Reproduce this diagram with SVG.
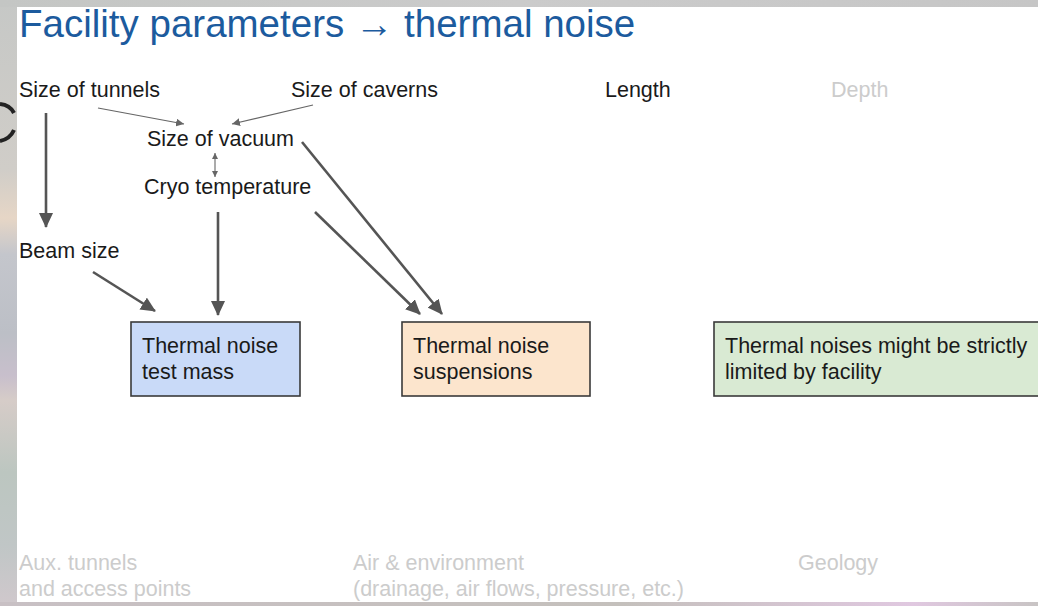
<svg xmlns="http://www.w3.org/2000/svg" width="1038" height="606" viewBox="0 0 1038 606">
  <style>
    text { font-family: "Liberation Sans", Arial, sans-serif; }
    .title { font-size: 38.5px; fill: #1c5b9e; }
    .lbl { font-size: 21.5px; fill: #1a1a1a; }
    .dim { font-size: 21.5px; fill: #cccccc; }
    .box { stroke: #3a3a3a; stroke-width: 1.6; }
    .thick { stroke: #555555; stroke-width: 2.6; fill: none; marker-end: url(#head); }
    .thin { stroke: #666666; stroke-width: 1.2; fill: none; marker-end: url(#headSmall); }
  </style>
  <defs>
    <marker id="head" markerUnits="userSpaceOnUse" markerWidth="16" markerHeight="14" refX="14" refY="7" orient="auto">
      <path d="M0,0 L15,7 L0,14 Z" fill="#555555"/>
    </marker>
    <marker id="headSmall" markerUnits="userSpaceOnUse" markerWidth="9" markerHeight="8" refX="8" refY="4" orient="auto">
      <path d="M0,0 L8,4 L0,8 Z" fill="#666666"/>
    </marker>
    <marker id="headTiny" markerUnits="userSpaceOnUse" markerWidth="7" markerHeight="6" refX="6" refY="3" orient="auto-start-reverse">
      <path d="M0,0 L6,3 L0,6 Z" fill="#666666"/>
    </marker>
    <linearGradient id="sideStrip" x1="0" y1="0" x2="0" y2="1">
      <stop offset="0" stop-color="#c6c8c6"/>
      <stop offset="0.28" stop-color="#d0cdc8"/>
      <stop offset="0.36" stop-color="#e6d6c6"/>
      <stop offset="0.42" stop-color="#c4c6cc"/>
      <stop offset="0.55" stop-color="#bcbfc6"/>
      <stop offset="0.62" stop-color="#c8bfcc"/>
      <stop offset="0.66" stop-color="#d6ccc8"/>
      <stop offset="0.78" stop-color="#bcc6c0"/>
      <stop offset="0.9" stop-color="#c0c6c6"/>
      <stop offset="1" stop-color="#d0c8cc"/>
    </linearGradient>
    <linearGradient id="topStrip" x1="0" y1="0" x2="1" y2="0">
      <stop offset="0" stop-color="#c4c6c4"/>
      <stop offset="0.5" stop-color="#cbcbcb"/>
      <stop offset="1" stop-color="#c6c6c6"/>
    </linearGradient>
    <linearGradient id="bottomStrip" x1="0" y1="0" x2="1" y2="0">
      <stop offset="0" stop-color="#c8c0c4"/>
      <stop offset="0.6" stop-color="#c4c0bc"/>
      <stop offset="0.88" stop-color="#e0c8e0"/>
      <stop offset="1" stop-color="#c8c4c4"/>
    </linearGradient>
  </defs>

  <!-- backdrop around the slide -->
  <rect x="0" y="0" width="1038" height="606" fill="url(#sideStrip)"/>
  <rect x="0" y="0" width="1038" height="7" fill="url(#topStrip)"/>
  <rect x="0" y="602" width="1038" height="4" fill="url(#bottomStrip)"/>
  <!-- dark curved mark on the backdrop, left edge -->
  <path d="M0,104 Q10,105 14,113" fill="none" stroke="#222222" stroke-width="4"/>
  <path d="M14,130 Q10,139 0,141" fill="none" stroke="#222222" stroke-width="4"/>

  <!-- slide -->
  <rect x="17" y="7" width="1021" height="595" fill="#ffffff"/>

  <text class="title" x="19" y="37">Facility parameters → thermal noise</text>

  <g id="size-of-tunnels"><text class="lbl" x="19" y="97">Size of tunnels</text></g>
  <g id="size-of-caverns"><text class="lbl" x="291" y="97">Size of caverns</text></g>
  <g id="length"><text class="lbl" x="605" y="97">Length</text></g>
  <g id="depth"><text class="dim" x="831" y="97">Depth</text></g>
  <g id="size-of-vacuum"><text class="lbl" x="147" y="146">Size of vacuum</text></g>
  <g id="cryo-temperature"><text class="lbl" x="144" y="194">Cryo temperature</text></g>
  <g id="beam-size"><text class="lbl" x="19" y="258">Beam size</text></g>

  <g id="tn-test-mass">
    <rect class="box" x="131" y="322" width="169" height="74" fill="#c9daf8"/>
    <text class="lbl" x="142" y="353">Thermal noise</text>
    <text class="lbl" x="142" y="379">test mass</text>
  </g>
  <g id="tn-suspensions">
    <rect class="box" x="402" y="322" width="188" height="74" fill="#fce5cd"/>
    <text class="lbl" x="413" y="353">Thermal noise</text>
    <text class="lbl" x="413" y="379">suspensions</text>
  </g>
  <g id="facility-limit">
    <rect class="box" x="714" y="322" width="340" height="74" fill="#d9ead3"/>
    <text class="lbl" x="725" y="353">Thermal noises might be strictly</text>
    <text class="lbl" x="725" y="379">limited by facility</text>
  </g>

  <g id="aux-tunnels">
    <text class="dim" x="19" y="570">Aux. tunnels</text>
    <text class="dim" x="19" y="596">and access points</text>
  </g>
  <g id="air-environment">
    <text class="dim" x="353" y="570">Air &amp; environment</text>
    <text class="dim" x="353" y="596">(drainage, air flows, pressure, etc.)</text>
  </g>
  <g id="geology"><text class="dim" x="798" y="570">Geology</text></g>

  <g id="connectors">
    <line class="thick" x1="46" y1="113" x2="46" y2="227"/>
    <line class="thin" x1="98" y1="108" x2="184" y2="124"/>
    <line class="thin" x1="313" y1="105" x2="232" y2="124"/>
    <line x1="215" y1="153" x2="215" y2="177" stroke="#666666" stroke-width="1.1" marker-start="url(#headTiny)" marker-end="url(#headTiny)"/>
    <line class="thick" x1="218" y1="212" x2="218" y2="315"/>
    <line class="thick" x1="93" y1="272" x2="155" y2="311"/>
    <line class="thick" x1="315" y1="212" x2="420" y2="314"/>
    <line class="thick" x1="302" y1="142" x2="442" y2="314"/>
  </g>
</svg>
